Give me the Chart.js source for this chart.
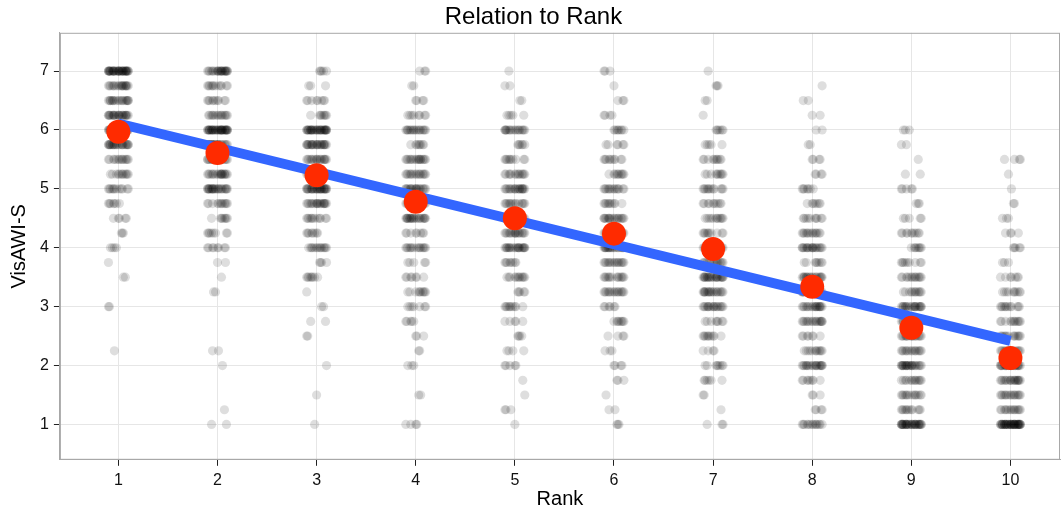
<!DOCTYPE html>
<html>
<head>
<meta charset="utf-8">
<script src="https://cdn.jsdelivr.net/npm/chart.js@4/dist/chart.umd.min.js"></script>
<style>
  html, body { margin: 0; padding: 0; background: #fff; overflow: hidden; }
  .chart-container { width: 1061px; height: 513px; }
  canvas { display: block; }
</style>
</head>
<body>
<div class="chart-container"><canvas id="chart"></canvas></div>
<script>
// y levels, top to bottom
const levels = [7, 6.75, 6.5, 6.25, 6, 5.75, 5.5, 5.25, 5, 4.75, 4.5, 4.25, 4,
                3.75, 3.5, 3.25, 3, 2.75, 2.5, 2.25, 2, 1.75, 1.5, 1.25, 1];

// number of responses at each level, per rank
const rank1Counts  = [40, 20, 20, 25, 30, 25, 14, 12, 12, 7, 5, 3, 4, 1, 2, 0, 2, 0, 0, 1, 0, 0, 0, 0, 0];
const rank2Counts  = [25, 12, 10, 15, 40, 25, 20, 20, 25, 12, 8, 8, 8, 2, 1, 2, 0, 0, 0, 2, 1, 0, 0, 1, 2];
const rank3Counts  = [5, 3, 8, 8, 35, 25, 18, 20, 30, 20, 12, 8, 14, 4, 8, 1, 2, 2, 2, 0, 1, 0, 1, 0, 1];
const rank4Counts  = [3, 2, 4, 8, 18, 8, 18, 16, 20, 20, 22, 8, 15, 5, 7, 10, 7, 5, 3, 2, 3, 0, 2, 0, 4];
const rank5Counts  = [1, 2, 2, 5, 18, 6, 10, 14, 20, 14, 20, 18, 22, 8, 12, 5, 10, 5, 4, 4, 5, 1, 1, 3, 1];
const rank6Counts  = [3, 1, 3, 4, 8, 6, 10, 10, 14, 10, 18, 20, 22, 16, 14, 16, 6, 8, 4, 3, 4, 3, 1, 2, 3];
const rank7Counts  = [1, 3, 2, 1, 6, 5, 10, 10, 12, 10, 12, 10, 18, 15, 25, 20, 18, 8, 10, 4, 8, 6, 2, 1, 3];
const rank8Counts  = [0, 1, 2, 2, 2, 2, 4, 4, 7, 7, 10, 14, 20, 8, 20, 20, 20, 18, 7, 12, 20, 8, 3, 4, 14];
const rank9Counts  = [0, 0, 0, 0, 3, 2, 1, 2, 5, 3, 5, 10, 8, 9, 14, 12, 22, 18, 18, 16, 25, 14, 14, 12, 35];
const rank10Counts = [0, 0, 0, 0, 0, 0, 4, 1, 1, 2, 3, 4, 5, 3, 7, 10, 12, 12, 14, 15, 25, 20, 16, 15, 45];

const ranks = [1, 2, 3, 4, 5, 6, 7, 8, 9, 10];
const rankMeans = [5.97, 5.61, 5.23, 4.78, 4.50, 4.24, 3.98, 3.34, 2.64, 2.13];
// linear fit, value at rank 1 and rank 10
const fitRanks = [1, 10];
const fitValues = [6.11, 2.42];

// fixed horizontal jitter offsets
const jitter = [-0.09, 0.05, -0.02, 0.08, -0.06, 0.01, 0.1, -0.1, 0.03, -0.04, 0.07, -0.08, 0.0, 0.09, -0.05, 0.04];

const xTicks = [1, 2, 3, 4, 5, 6, 7, 8, 9, 10];
const yTicks = [1, 2, 3, 4, 5, 6, 7];

const allCounts = [rank1Counts, rank2Counts, rank3Counts, rank4Counts, rank5Counts,
                   rank6Counts, rank7Counts, rank8Counts, rank9Counts, rank10Counts];

const scatter = [];
allCounts.forEach((counts, r) => {
  counts.forEach((n, i) => {
    for (let k = 0; k < n; k++) {
      const off = jitter[(k * 7 + i * 3 + r * 5) % jitter.length];
      scatter.push({ x: ranks[r] + off, y: levels[i] });
    }
  });
});

const panelBorder = {
  id: 'panelBorder',
  beforeDatasetsDraw(chart) {
    const { ctx, chartArea: a } = chart;
    ctx.save();
    ctx.strokeStyle = '#a8a8a8';
    ctx.lineWidth = 1;
    ctx.strokeRect(a.left + 0.5, a.top + 0.5, a.right - a.left - 1, a.bottom - a.top - 1);
    ctx.restore();
  }
};

Chart.defaults.font.family = '"Liberation Sans", Arial, sans-serif';
Chart.defaults.color = '#000';

new Chart(document.getElementById('chart').getContext('2d'), {
  data: {
    datasets: [
      {
        type: 'scatter',
        data: rankMeans.map((m, i) => ({ x: ranks[i], y: m })),
        pointRadius: 12,
        pointBackgroundColor: '#ff2b00',
        pointBorderWidth: 0,
        order: 0,
      },
      {
        type: 'line',
        data: fitRanks.map((x, i) => ({ x: x, y: fitValues[i] })),
        borderColor: '#3366ff',
        borderWidth: 10,
        pointRadius: 0,
        order: 1,
      },
      {
        type: 'scatter',
        data: scatter,
        pointRadius: 4.6,
        pointBackgroundColor: 'rgba(0, 0, 0, 0.13)',
        pointBorderWidth: 0,
        order: 2,
      },
    ],
  },
  options: {
    animation: false,
    responsive: true,
    maintainAspectRatio: false,
    layout: { autoPadding: false, padding: { left: 7, right: 1, top: 0, bottom: 2 } },
    plugins: {
      legend: { display: false },
      tooltip: { enabled: false },
      title: {
        display: true,
        text: 'Relation to Rank',
        font: { size: 24, weight: 'normal' },
        color: '#000',
        padding: { top: 3, bottom: 1 },
      },
    },
    scales: {
      x: {
        type: 'linear',
        min: 0.41,
        max: 10.5,
        afterBuildTicks: (s) => { s.ticks = xTicks.map(v => ({ value: v })); },
        ticks: { font: { size: 16 }, color: '#111', padding: 5 },
        grid: { color: '#e6e6e6', tickColor: '#222', tickLength: 6 },
        border: { color: '#a8a8a8' },
        title: { display: true, text: 'Rank', font: { size: 20 }, color: '#000', padding: { top: -8, bottom: 0 } },
      },
      y: {
        type: 'linear',
        min: 0.4,
        max: 7.65,
        afterBuildTicks: (s) => { s.ticks = yTicks.map(v => ({ value: v })); },
        ticks: { font: { size: 16 }, color: '#111', padding: 5 },
        grid: { color: '#e6e6e6', tickColor: '#222', tickLength: 6 },
        border: { color: '#a8a8a8' },
        title: { display: true, text: 'VisAWI-S', font: { size: 20 }, color: '#000', padding: { top: 0, bottom: 4 } },
      },
    },
  },
  plugins: [panelBorder],
});
</script>
</body>
</html>
